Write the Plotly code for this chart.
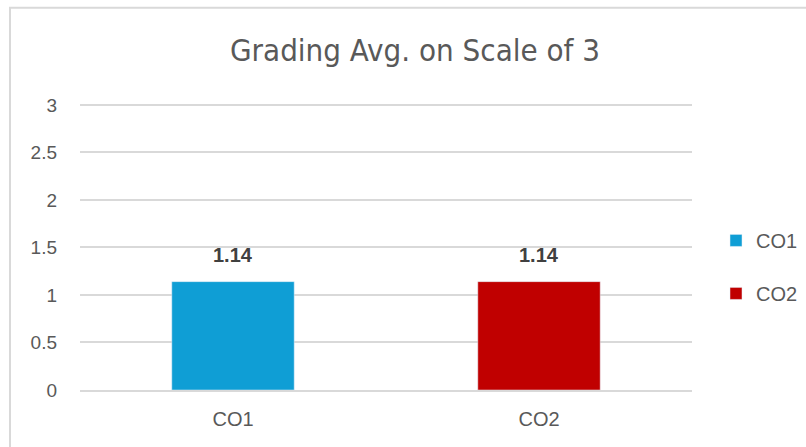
import plotly.graph_objects as go

categories = ["CO1", "CO2"]
values = [1.14, 1.14]
colors = ["#0F9ED5", "#C00000"]
y_ticks = [0, 0.5, 1, 1.5, 2, 2.5, 3]
y_tick_labels = ["0", "0.5", "1", "1.5", "2", "2.5", "3"]

W, H = 806, 447
# plot area in screen pixels: x 80..692, y=0 at 390, y=3 at 105
Y_MAX = 3.03
px_per_unit = (390 - 105) / 3
L = 80
T = 390 - Y_MAX * px_per_unit
R = W - 692
B = H - 390
pw, ph = W - L - R, H - T - B

fig = go.Figure()
for cat, val, col in zip(categories, values, colors):
    fig.add_trace(go.Bar(
        x=[cat], y=[val], name=cat, marker_color=col, width=0.4,
        legendgroup=cat, showlegend=True,
    ))
    fig.add_annotation(
        x=cat, y=val, text=f"<b>{val:.2f}</b>", showarrow=False,
        yanchor="bottom", yshift=14,
        font=dict(family="Liberation Sans, Arial", size=20, color="#404040"),
    )

# chart border (extends past right/bottom edge like the reference)
bx0 = (10 - L) / pw
by1 = 1 + (T - 8) / ph
fig.add_shape(type="rect", xref="paper", yref="paper",
              x0=bx0, x1=1 + (R + 30) / pw, y0=-(B + 30) / ph, y1=by1,
              line=dict(color="#D9D9D9", width=2), fillcolor="rgba(0,0,0,0)")

fig.update_layout(
    width=W, height=H,
    margin=dict(l=L, r=R, t=T, b=B, autoexpand=False),
    paper_bgcolor="white", plot_bgcolor="white",
    barmode="overlay",
    title=dict(text="Grading Avg. on Scale of 3", x=415 / W, xanchor="center",
               y=1 - 50 / H, yanchor="middle",
               font=dict(family="DejaVu Sans Condensed, Liberation Sans Narrow, Liberation Sans",
                         size=31, color="#595959")),
    font=dict(family="Liberation Sans, Arial", size=19, color="#595959"),
    legend=dict(x=(716 - L) / pw, xanchor="left", y=(390 - 267) / ph, yanchor="middle",
                tracegroupgap=24, font=dict(size=20, color="#595959"),
                bgcolor="rgba(0,0,0,0)"),
    showlegend=True,
    xaxis=dict(showgrid=False, showline=True, linecolor="#D9D9D9", linewidth=2,
               ticks="", ticklabelstandoff=10, tickfont=dict(size=20)),
    yaxis=dict(range=[0, Y_MAX], tickvals=y_ticks, ticktext=y_tick_labels,
               showgrid=True, gridcolor="#D9D9D9", gridwidth=1.5,
               zeroline=False, showline=False, ticks="", ticklabelstandoff=22,
               tickfont=dict(size=19)),
)

fig.write_html(
    "out.html",
    config={"displayModeBar": False},
    post_script="document.body.style.margin='0';document.body.style.overflow='hidden';",
)
